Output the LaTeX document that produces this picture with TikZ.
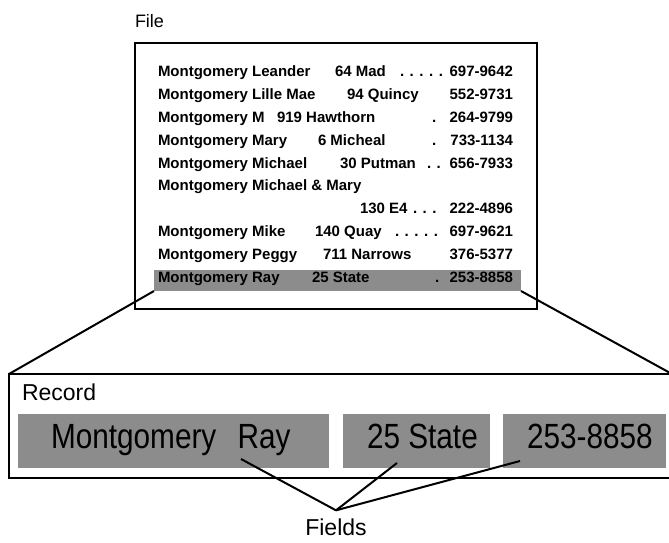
\documentclass[tikz,border=0pt]{standalone}
\usepackage{fontspec}
\setmainfont{Liberation Sans}
\newfontfamily\fieldfont[FakeStretch=0.85]{Liberation Sans}
\usetikzlibrary{positioning}

\begin{document}
\begin{tikzpicture}[
  x=1pt, y=-1pt,
  every node/.style={inner sep=0pt, outer sep=0pt},
  entry/.style={font=\bfseries\fontsize{15}{15}\selectfont, anchor=base west},
  phone/.style={font=\bfseries\fontsize{15}{15}\selectfont, anchor=base east},
  title/.style={font=\fontsize{23}{23}\selectfont, anchor=base west},
  shade/.style={fill=black!45, draw=none},
  fieldtext/.style={font=\fieldfont\fontsize{35}{35}\selectfont, anchor=base west},
  link/.style={line width=2pt},
]
\useasboundingbox (0,0) rectangle (669,543);

% === File ===
\node[title, font=\fontsize{18}{18}\selectfont] (filelbl) at (135,28) {File};
\node[draw, line width=2pt, minimum width=402pt, minimum height=266pt] (file) at (336,176) {};
\node[shade, minimum width=367pt, minimum height=21pt] (band) at (337.5,280.5) {};

% === Entries ===
\foreach \yc/\nm/\ad/\ax/\dt/\dx/\ph [count=\i] in {
  72/Montgomery Leander/64 Mad/335/. . . . ./400/697-9642,
  94.8/Montgomery Lille Mae/94 Quincy/347/{}/430/552-9731,
  117.6/Montgomery M/919 Hawthorn/277/./432/264-9799,
  140.3/Montgomery Mary/6 Micheal/318/./432/733-1134,
  163/Montgomery Michael/30 Putman/340/. ./427/656-7933,
  185.8/Montgomery Michael \& Mary/{}/340/{}/430/{},
  208.6/{}/130 E4/360/. . ./413/222-4896,
  231.4/Montgomery Mike/140 Quay/315/. . . . ./395/697-9621,
  254.2/Montgomery Peggy/711 Narrows/323/{}/430/376-5377,
  277/Montgomery Ray/25 State/312/./435/253-8858}
{
  \node[entry] (name\i) at (158,\yc+5) {\nm};
  \node[entry] (addr\i) at (\ax,\yc+5) {\ad};
  \node[entry] (dots\i) at (\dx,\yc+5) {\dt};
  \node[phone] (phone\i) at (513,\yc+5) {\ph};
}

% === Record ===
\node[draw, line width=2.5pt, minimum width=663pt, minimum height=104pt] (record) at (340.5,426) {};
\node[title] (reclbl) at (22,400) {Record};
\node[shade, minimum width=311pt, minimum height=54pt] (f1) at (173.5,441) {};
\node[shade, minimum width=147pt, minimum height=54pt] (f2) at (416.5,441) {};
\node[shade, minimum width=163pt, minimum height=54pt] (f3) at (584.5,441) {};
\node[fieldtext] (t1) at (51,448) {Montgomery\hspace{13pt} Ray};
\node[fieldtext] (t2) at (367,448) {25 State};
\node[fieldtext] (t3) at (527,448) {253-8858};

% === Zoom lines ===
\draw[link] (band.south west) -- (record.north west);
\draw[link] (band.south east) -- (record.north east);

% === Fields ===
\node[title, anchor=base] (fieldslbl) at (336,535) {Fields};
\coordinate (meet) at ([yshift=8pt]fieldslbl.north);
\coordinate (ray) at (241,459);
\coordinate (street) at (397,463);
\coordinate (number) at (520,461);
\draw[link] (ray) -- (meet);
\draw[link] (street) -- (meet);
\draw[link] (number) -- (meet);

\end{tikzpicture}
\end{document}
